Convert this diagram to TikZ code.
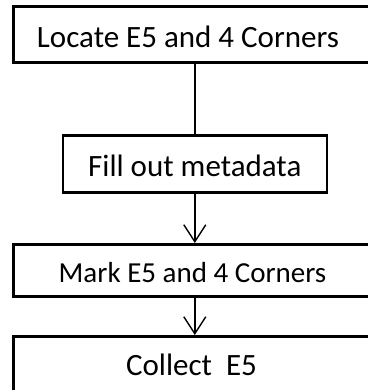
\documentclass[tikz,border=0pt]{standalone}
\usepackage{fontspec}
\setmainfont{Carlito}
\usetikzlibrary{arrows.meta,positioning}

\tikzset{
  stepbox/.style={draw, line width=2.6pt, inner sep=0pt, anchor=north west},
  steptext/.style={inner sep=0pt, anchor=base, font=\fontsize{31}{37}\selectfont},
  link/.style={line width=1.4pt},
  flow/.style={link, -{Straight Barb[length=17pt,width=22pt]}},
}

\begin{document}
\begin{tikzpicture}[x=1pt,y=1pt]
  \useasboundingbox (0,0) rectangle (367,-390);
  % boxes
  \node[stepbox, minimum width=380pt, minimum height=56pt] (locate) at (12,-5) {};
  \node[stepbox, minimum width=264pt, minimum height=57pt, text height=25pt, text depth=0pt,
        font=\fontsize{31}{37}\selectfont] (meta) at (61.5,-134) {Fill out metadata};
  \node[stepbox, minimum width=380pt, minimum height=52pt] (mark) at (12,-243) {};
  \node[stepbox, minimum width=380pt, minimum height=70pt] (collect) at (12,-335) {};
  % labels
  \node[steptext] (locatelabel) at (188,-48) {Locate E5 and 4 Corners};
  \node[steptext, font=\fontsize{29}{35}\selectfont] (marklabel) at (192.5,-282) {Mark E5 and 4 Corners};
  \node[steptext] (collectlabel) at (191.5,-375) {Collect\ \ E5};
  % connectors
  \draw[link] (meta.north |- locate.south) -- (meta.north);
  \draw[flow] (meta.south) -- (meta.south |- mark.north);
  \draw[flow] (meta.south |- mark.south) -- (meta.south |- collect.north);
\end{tikzpicture}
\end{document}
